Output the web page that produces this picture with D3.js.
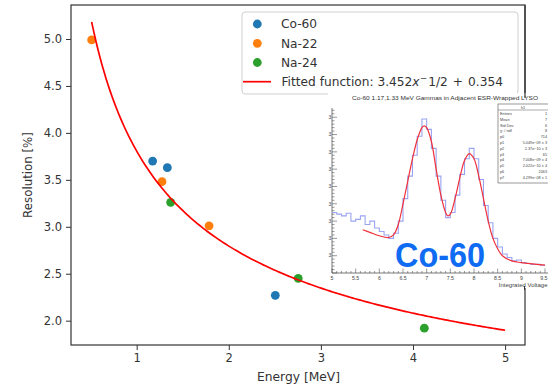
<!DOCTYPE html>
<html><head><meta charset="utf-8">
<script src="https://cdn.jsdelivr.net/npm/d3@7"></script>
<style>body{margin:0;background:#fff}svg{display:block}</style>
</head><body>
<svg id="c" width="548" height="388"></svg>
<script>
// ---- main chart data ----
const co60Energy = [1.173, 1.333, 2.505];
const co60Res = [3.70, 3.63, 2.27];
const na22Energy = [0.511, 1.275, 1.786];
const na22Res = [4.99, 3.48, 3.01];
const na24Energy = [1.369, 2.754, 4.123];
const na24Res = [3.26, 2.45, 1.92];
const fitA = 3.452, fitB = 0.354;          // fit: A*x^-1/2 + B
const fitRange = [0.511, 5.0];
const xTicks = [1, 2, 3, 4, 5];
const yTicks = [2.0, 2.5, 3.0, 3.5, 4.0, 4.5, 5.0];
const legendLabels = ["Co-60", "Na-22", "Na-24"];
const seriesColors = ["#1f77b4", "#ff7f0e", "#2ca02c"];

// ---- inset histogram data (Integrated Voltage, counts in axis units) ----
const histStart = 5.0, histBinWidth = 0.1;
const histCounts = [3.5,3.4,3.3,3.45,3.0,3.1,3.3,2.8,3.0,2.6,
                    2.4,2.2,2.0,2.3,3.0,4.3,5.6,6.8,7.9,8.9,
                    8.3,7.2,5.6,4.2,3.2,3.5,4.5,5.7,6.6,7.2,
                    6.6,5.4,3.9,2.9,2.0,1.5,1.1,0.9,0.7,0.75,
                    0.6,0.55,0.5,0.5,0.45];
const fitCurveX = [5.65,5.8,6.0,6.2,6.3,6.4,6.5,6.6,6.7,6.8,6.9,6.95,7.0,7.1,7.2,7.3,7.4,7.45,7.5,7.6,7.7,7.8,7.9,8.0,8.1,8.2,8.3,8.4,8.5,8.6,8.8,9.0,9.5];
const fitCurveY = [2.5,2.35,2.15,2.05,2.2,2.8,4.0,5.3,6.6,7.7,8.4,8.5,8.4,7.6,6.0,4.5,3.5,3.3,3.4,4.3,5.5,6.5,6.9,6.6,5.6,4.3,3.0,2.0,1.4,1.0,0.7,0.6,0.45];
const insetXTicks = [5,5.5,6,6.5,7,7.5,8,8.5,9,9.5];
const insetYTicks = [1,2,3,4,5,6,7,8,9];
const statsLabels = ["Entries","Mean","Std Dev","\u03c7\u00b2 / ndf","p0","p1","p2","p3","p4","p5","p6","p7"];
const statsValues = ["1","7","6","8","714","5.049e\u221209 \u00b1 3","2.37e\u221210 \u00b1 3","65","7.008e\u221209 \u00b1 4","2.022e\u221210 \u00b1 4","2063","4.299e\u221208 \u00b1 1"];

const svg = d3.select("#c");
const F = "DejaVu Sans";
const L = 71, R = 525, T = 5, B = 345;
const x = d3.scaleLinear().domain([0.287, 5.216]).range([L, R]);
const y = d3.scaleLinear().domain([1.741, 5.362]).range([B, T]);

// axes
const gx = svg.append("g").attr("transform", `translate(0,${B})`)
  .call(d3.axisBottom(x).tickValues(xTicks).tickFormat(d3.format("d")).tickSize(5).tickPadding(4));
const gy = svg.append("g").attr("transform", `translate(${L},0)`)
  .call(d3.axisLeft(y).tickValues(yTicks).tickFormat(d3.format(".1f")).tickSize(5).tickPadding(4));
[gx, gy].forEach(g => {
  g.select(".domain").remove();
  g.selectAll("line").attr("stroke", "#333").attr("stroke-width", 1);
  g.selectAll("text").attr("font-family", F).attr("font-size", 11.5).attr("fill", "#333");
});
svg.append("rect").attr("x", L).attr("y", T).attr("width", R - L).attr("height", B - T)
  .attr("fill", "none").attr("stroke", "#333").attr("stroke-width", 1.2);

svg.append("text").attr("x", (L + R) / 2 + 0.5).attr("y", 381).attr("text-anchor", "middle")
  .attr("font-family", F).attr("font-size", 12.3).attr("fill", "#333").text("Energy [MeV]");
svg.append("text").attr("transform", `translate(32,${(T + B) / 2}) rotate(-90)`).attr("text-anchor", "middle")
  .attr("font-family", F).attr("font-size", 11.8).attr("fill", "#333").text("Resolution [%]");

// scatter
const series = [[co60Energy, co60Res], [na22Energy, na22Res], [na24Energy, na24Res]];
series.forEach((s, i) => {
  svg.append("g").selectAll("circle").data(s[0]).join("circle")
    .attr("cx", d => x(d)).attr("cy", (d, j) => y(s[1][j])).attr("r", 4.4)
    .attr("fill", seriesColors[i]);
});
// fit line
const fitXs = d3.range(0, 201).map(k => fitRange[0] + (fitRange[1] - fitRange[0]) * k / 200);
svg.append("path").datum(fitXs)
  .attr("d", d3.line().x(d => x(d)).y(d => y(fitA / Math.sqrt(d) + fitB)))
  .attr("fill", "none").attr("stroke", "#ff0000").attr("stroke-width", 1.7);

// legend
const lg = svg.append("g");
lg.append("rect").attr("x", 242).attr("y", 12).attr("width", 276).attr("height", 82).attr("rx", 3)
  .attr("fill", "#fff").attr("fill-opacity", 0.9).attr("stroke", "#d0d0d0").attr("stroke-width", 1);
const rowsY = [24, 43.3, 62.5, 81.7];
legendLabels.forEach((t, i) => {
  lg.append("circle").attr("cx", 257.3).attr("cy", rowsY[i]).attr("r", 4.4).attr("fill", seriesColors[i]);
  lg.append("text").attr("x", 281).attr("y", rowsY[i] + 4.3).attr("font-family", F).attr("font-size", 12.2)
    .attr("fill", "#333").text(t);
});
lg.append("line").attr("x1", 243).attr("x2", 271).attr("y1", rowsY[3]).attr("y2", rowsY[3])
  .attr("stroke", "#ff0000").attr("stroke-width", 1.7);
const ft = lg.append("text").attr("x", 281.5).attr("y", rowsY[3] + 4.3).attr("font-family", F)
  .attr("font-size", 12.2).attr("fill", "#333");
ft.append("tspan").text("Fitted function: " + fitA);
ft.append("tspan").attr("font-style", "italic").text("x");
ft.append("tspan").attr("dx", 0.5).attr("dy", -5).attr("font-size", 8.5).text("\u2212");
ft.append("tspan").attr("dx", 1).attr("dy", 5).text("1/2");
ft.append("tspan").attr("dx", 5).text("+");
ft.append("tspan").attr("dx", 5).text(String(fitB));

// ---- inset ----
const ins = svg.append("g");
ins.append("rect").attr("x", 328).attr("y", 93).attr("width", 220).attr("height", 195).attr("fill", "#fff");
// spine visible above inset
svg.append("line").attr("x1", R).attr("x2", R).attr("y1", T).attr("y2", 98).attr("stroke", "#333").attr("stroke-width", 1.2);
svg.append("line").attr("x1", 524.5).attr("x2", 524.5).attr("y1", 286).attr("y2", 290).attr("stroke", "#333").attr("stroke-width", 1);

const ix = d3.scaleLinear().domain([5, 9.5]).range([332, 545]);
const iy = d3.scaleLinear().domain([0, 9.5]).range([273, 108.6]);
const IF = "Liberation Sans";
ins.append("text").attr("x", 445).attr("y", 99.5).attr("text-anchor", "middle").attr("font-family", IF)
  .attr("font-size", 6.2).attr("fill", "#333").attr("textLength", 186).attr("lengthAdjust", "spacingAndGlyphs")
  .text("Co-60 1.17,1.33 MeV Gammas in Adjacent ESR-Wrapped LYSO");
// axes lines
ins.append("line").attr("x1", 332).attr("x2", 332).attr("y1", 108).attr("y2", 273).attr("stroke", "#555").attr("stroke-width", 0.8);
ins.append("line").attr("x1", 332).attr("x2", 548).attr("y1", 273).attr("y2", 273).attr("stroke", "#555").attr("stroke-width", 0.8);
const minorX = d3.range(0, 46).map(k => 5 + k * 0.1);
ins.append("g").selectAll("line").data(minorX).join("line")
  .attr("x1", d => ix(d)).attr("x2", d => ix(d)).attr("y1", 273).attr("y2", d => Math.abs(d * 2 - Math.round(d * 2)) < 1e-6 ? 268.5 : 271)
  .attr("stroke", "#555").attr("stroke-width", 0.6);
ins.append("g").selectAll("text").data(insetXTicks).join("text")
  .attr("x", d => ix(d)).attr("y", 279.5).attr("text-anchor", d => d === 9.5 ? "end" : "middle").attr("dx", d => d === 9.5 ? 2.5 : 0)
  .attr("font-family", IF).attr("font-size", 5.2).attr("fill", "#444").text(d => d);
ins.append("text").attr("x", 547.5).attr("y", 287).attr("text-anchor", "end").attr("font-family", IF).attr("font-size", 6)
  .attr("fill", "#444").text("Integrated Voltage");
const minorY = d3.range(0, 48).map(k => k * 0.2);
ins.append("g").selectAll("line").data(minorY).join("line")
  .attr("x1", 332).attr("x2", d => Math.abs(d - Math.round(d)) < 1e-6 ? 337 : 334.5)
  .attr("y1", d => iy(d)).attr("y2", d => iy(d)).attr("stroke", "#555").attr("stroke-width", 0.6);
ins.append("g").selectAll("text").data(insetYTicks).join("text")
  .attr("x", 328.5).attr("y", d => iy(d) + 1.8).attr("font-family", IF).attr("font-size", 5).attr("fill", "#444")
  .text("3");
// histogram
const histPts = histCounts.map((c, k) => [histStart + k * histBinWidth, c]);
histPts.push([histStart + histCounts.length * histBinWidth, histCounts[histCounts.length - 1]]);
ins.append("path").datum(histPts)
  .attr("d", d3.line().x(d => ix(d[0])).y(d => iy(d[1])).curve(d3.curveStepAfter))
  .attr("fill", "none").attr("stroke", "#9aa4f2").attr("stroke-width", 1.1);
ins.append("path").datum(fitCurveX.map((v, k) => [v, fitCurveY[k]]))
  .attr("d", d3.line().x(d => ix(d[0])).y(d => iy(d[1])).curve(d3.curveCatmullRom))
  .attr("fill", "none").attr("stroke", "#f0303a").attr("stroke-width", 1.2);
// stats box
const sb = ins.append("g");
sb.append("rect").attr("x", 498).attr("y", 104).attr("width", 52).attr("height", 79)
  .attr("fill", "#fff").attr("stroke", "#555").attr("stroke-width", 0.6);
sb.append("line").attr("x1", 498).attr("x2", 548).attr("y1", 110).attr("y2", 110).attr("stroke", "#555").attr("stroke-width", 0.5);
sb.append("text").attr("x", 523).attr("y", 108.6).attr("text-anchor", "middle").attr("font-family", IF)
  .attr("font-size", 3.8).attr("fill", "#444").text("h1");
statsLabels.forEach((t, i) => {
  const yy = 115 + i * 5.8;
  sb.append("text").attr("x", 500).attr("y", yy).attr("font-family", IF).attr("font-size", 3.8).attr("fill", "#444").text(t);
  sb.append("text").attr("x", 547).attr("y", yy).attr("text-anchor", "end").attr("font-family", IF).attr("font-size", 3.8).attr("fill", "#444")
    .text(statsValues[i]);
});
// big label
ins.append("text").attr("x", 395).attr("y", 266.5).attr("font-family", "Liberation Sans").attr("font-weight", "bold")
  .attr("font-size", 35).attr("fill", "#0f6cf2").attr("textLength", 90).attr("lengthAdjust", "spacingAndGlyphs").text("Co-60");
</script>
</body></html>
